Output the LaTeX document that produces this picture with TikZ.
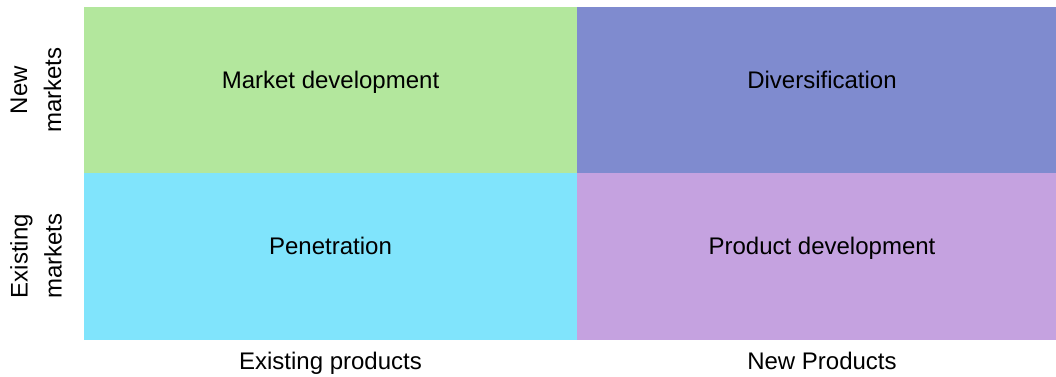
\documentclass[tikz,border=0pt]{standalone}
\usepackage{fontspec}
\setmainfont{Liberation Sans}
\usepackage{xcolor}
\usetikzlibrary{positioning}

\definecolor{mdgreen}{RGB}{179,231,157}
\definecolor{divblue}{RGB}{127,139,207}
\definecolor{pencyan}{RGB}{128,228,252}
\definecolor{pdlilac}{RGB}{197,162,224}

\tikzset{
  cell/.style = {rectangle, inner sep = 0pt, outer sep = 0pt, minimum height = 166pt},
  celltext/.style = {anchor = base, font = \fontsize{24}{28}\selectfont},
  axistext/.style = {rotate = 90, align = center, font = \fontsize{24}{34}\selectfont}
}

\begin{document}
\begin{tikzpicture}[x = 1pt, y = 1pt]
\useasboundingbox (0, 0) rectangle (1056, 376);
\clip (0, 0) rectangle (1056, 376);
\node [cell, fill = mdgreen, minimum width = 493pt] (md) at (330.5, 286) {};
\node [cell, fill = divblue, minimum width = 490pt] (div) at (822, 286) {};
\node [cell, fill = pencyan, minimum width = 493pt, minimum height = 167pt] (pen) at (330.5, 119.5) {};
\node [cell, fill = pdlilac, minimum width = 490pt, minimum height = 167pt] (pd) at (822, 119.5) {};
\node [celltext] (mdlabel) at (330.5, 288) {Market development};
\node [celltext] (divlabel) at (822, 288) {Diversification};
\node [celltext] (penlabel) at (330.5, 122) {Penetration};
\node [celltext] (pdlabel) at (822, 122) {Product development};
\node [celltext] (existprod) at (330.5, 7) {Existing products};
\node [celltext] (newprod) at (822, 7) {New Products};
\node [axistext] (newmkt) at (36, 286) {New\\markets};
\node [axistext] (existmkt) at (36, 120) {Existing\\markets};
\end{tikzpicture}
\end{document}
